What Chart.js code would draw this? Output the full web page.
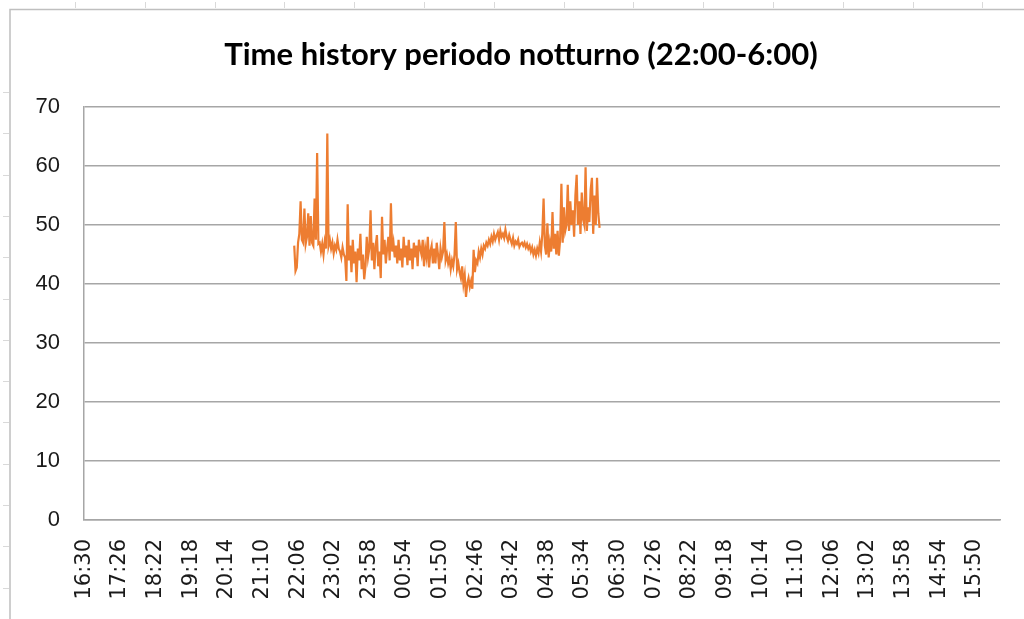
<!DOCTYPE html>
<html lang="it">
<head>
    <meta charset="UTF-8">
    <style>
        body {
            margin: 0;
            padding: 0;
            background: #ffffff;
        }

        .chart-container {
            position: relative;
            width: 1024px;
            height: 619px;
        }
    </style>
    <script src="https://cdn.jsdelivr.net/npm/chart.js"></script>
</head>
<body>
    <div class="chart-container">
        <canvas id="timeHistoryChart" width="1024" height="619"></canvas>
    </div>

    <script>
        // tick labels on the category axis (one every 56 minutes, from 16:30)
        const timeLabels = [
            '16:30', '17:26', '18:22', '19:18', '20:14', '21:10', '22:06', '23:02', '23:58',
            '00:54', '01:50', '02:46', '03:42', '04:38', '05:34', '06:30', '07:26', '08:22',
            '09:18', '10:14', '11:10', '12:06', '13:02', '13:58', '14:54', '15:50'
        ];
        const labelStepMinutes = 56;
        const dayMinutes = 1440;

        // night series, 22:00 -> 06:00 (minutes counted from 16:30)
        const startMinute = 330;
        const stepMinutes = 2;
        const noiseLevels = [
            46.5, 42.2, 42.8, 47, 48.5, 54, 47.5, 47, 52.8, 46.8,
            48, 52, 46.5, 51.5, 47, 46.5, 54.5, 47.5, 62.2, 46.8,
            47, 45.5, 46.8, 45, 47.2, 46, 65.5, 46.5, 47.5, 46,
            47, 45.2, 46.5, 45.8, 47.5, 46, 45.5, 44.5, 46.2, 45,
            44.5, 40.5, 53.5, 44, 46.5, 42, 47.5, 43.5, 45.5, 40.3,
            46, 44, 48.5, 42.5, 45, 40.8, 43, 48, 44.5, 46,
            52.5, 44, 47, 42.5, 46.5, 48.3, 43, 45.5, 41, 51.4,
            45, 47.5, 43.5, 46, 48, 44, 53.7, 45.5, 47, 44.5,
            46.5, 43.5, 47.5, 44, 46, 42.8, 48, 44.5, 46.5, 43.2,
            47.5, 44, 46, 42.5, 47, 44.5, 46.5, 43, 47.5, 46,
            45, 47.5, 43, 46, 44.5, 48, 42.8, 45.5, 46.5, 43.5,
            46, 43.5, 47, 45, 42.5, 46, 44.5, 45.5, 50.5, 44,
            45, 43.5, 44.5, 42.5, 44, 43, 45, 50.5, 42.5, 43.5,
            42, 41, 43, 40, 41.5, 37.8, 40, 41, 39.5, 40.5,
            39.2, 45.8, 42, 44, 43.5, 45.5, 44.5, 46, 45, 46.5,
            46, 47, 46.5, 47.5, 46.8, 48, 47.2, 48.5, 47.5, 48.2,
            48.8, 47.5, 49, 48, 48.5, 47.8, 49.2, 48, 47.3, 48.3,
            47.5, 46.8, 47.8, 46.5, 47.2, 46.8, 47.5, 46.3, 46.8, 47,
            46.5, 47, 46.2, 46.8, 46, 46.5, 45.5, 46.2, 45, 45.8,
            44.8, 46, 45.2, 47, 45.5, 48.5, 54.5, 46.5, 45, 50.3,
            44.5, 47, 45.5, 52.2, 46, 48.5, 45, 49, 44.8, 47.5,
            57, 47, 53, 49, 50, 56.8, 49, 54, 50, 52.5,
            48, 55, 58.5, 50, 54, 48.5, 55.5, 51, 50, 59.8,
            49, 53, 50.5, 56, 58, 48.5, 55, 50, 58, 52,
            49.5
        ];

        const gridGray = '#a6a6a6';

        // sheet cell lines + chart frame, and the title
        const sheetFrame = {
            id: 'sheetFrame',
            beforeDraw(chart) {
                const c = chart.ctx;
                c.save();
                c.fillStyle = '#ffffff';
                c.fillRect(0, 0, chart.width, chart.height);
                c.strokeStyle = '#d9d9d9';
                c.lineWidth = 1;
                for (let x = 75; x < chart.width; x += 69.8) {
                    c.beginPath();
                    c.moveTo(Math.round(x) + 0.5, 2);
                    c.lineTo(Math.round(x) + 0.5, 8);
                    c.stroke();
                }
                for (let y = 92; y < chart.height; y += 41.3) {
                    c.beginPath();
                    c.moveTo(3, Math.round(y) + 0.5);
                    c.lineTo(9, Math.round(y) + 0.5);
                    c.stroke();
                }
                c.strokeStyle = '#bfbfbf';
                c.lineWidth = 1.5;
                c.beginPath();
                c.moveTo(10, chart.height);
                c.lineTo(10, 9.5);
                c.lineTo(chart.width, 9.5);
                c.stroke();
                c.restore();
            },
            afterDraw(chart) {
                const c = chart.ctx;
                c.save();
                c.fillStyle = '#000000';
                c.font = 'bold 31px Lato, "Liberation Sans", sans-serif';
                c.textAlign = 'center';
                c.textBaseline = 'middle';
                c.fillText('Time history periodo notturno (22:00-6:00)', 521, 55);
                c.restore();
            }
        };

        const ctx = document.getElementById('timeHistoryChart').getContext('2d');

        new Chart(ctx, {
            type: 'line',
            data: {
                datasets: [{
                    label: 'Time history',
                    data: noiseLevels.map((v, i) => ({ x: startMinute + i * stepMinutes + 0.5, y: v })),
                    borderColor: '#ed7d31',
                    borderWidth: 2.2,
                    pointRadius: 0,
                    tension: 0,
                    fill: false
                }]
            },
            options: {
                responsive: false,
                animation: false,
                layout: {
                    padding: { top: 107, right: 24, bottom: 0, left: 0 }
                },
                plugins: {
                    legend: { display: false },
                    title: { display: false },
                    tooltip: { enabled: false }
                },
                scales: {
                    x: {
                        type: 'linear',
                        min: 0,
                        max: dayMinutes,
                        afterBuildTicks: (scale) => {
                            scale.ticks = timeLabels.map((t, i) => ({ value: i * labelStepMinutes + 0.5 }));
                        },
                        afterFit: (scale) => { scale.height = 99; },
                        grid: { display: false, drawTicks: false },
                        border: { display: true, color: gridGray, width: 1.5 },
                        ticks: {
                            autoSkip: false,
                            minRotation: 90,
                            maxRotation: 90,
                            padding: 19,
                            color: '#1a1a1a',
                            font: { family: '"DejaVu Sans", sans-serif', size: 21 },
                            callback: (value, index) => timeLabels[index]
                        }
                    },
                    y: {
                        min: 0,
                        max: 70,
                        afterFit: (scale) => { scale.width = 84; },
                        grid: { color: gridGray, lineWidth: 1.5, drawTicks: false },
                        border: { display: true, color: gridGray, width: 1.5 },
                        ticks: {
                            stepSize: 10,
                            padding: 24,
                            color: '#1a1a1a',
                            font: { family: '"Liberation Sans", Arial, sans-serif', size: 22 }
                        }
                    }
                }
            },
            plugins: [sheetFrame]
        });
    </script>
</body>
</html>
